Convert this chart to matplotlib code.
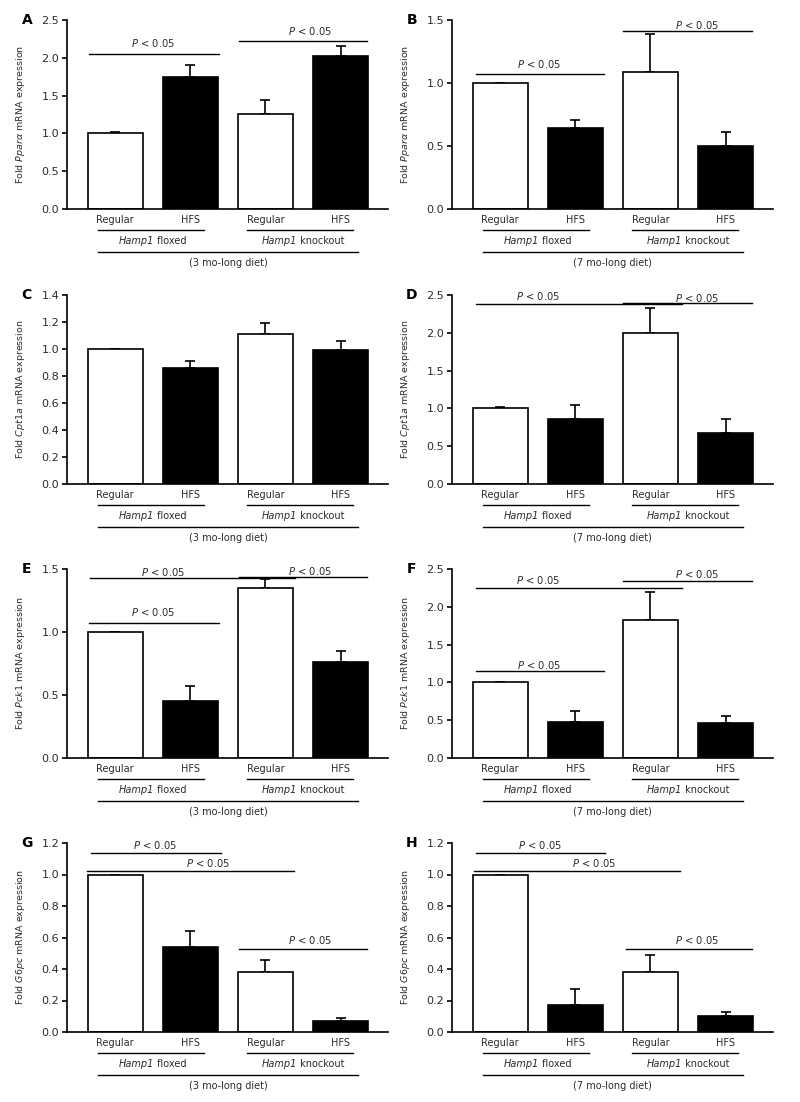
import numpy as np
import matplotlib.pyplot as plt
from matplotlib import transforms
from matplotlib.offsetbox import TextArea, HPacker, AnnotationBbox

plt.rcParams["mathtext.fontset"] = "custom"
plt.rcParams["mathtext.it"] = "DejaVu Sans:italic"
plt.rcParams["mathtext.rm"] = "DejaVu Sans"

# grupos en el eje x
grupos = ["Regular", "HFS", "Regular", "HFS"]
relleno = ["white", "black", "white", "black"]

# medias y errores (solo hacia arriba)
a_media = [1.01, 1.75, 1.25, 2.03]
a_error = [0.01, 0.16, 0.19, 0.12]
b_media = [1.00, 0.64, 1.09, 0.50]
b_error = [0.00, 0.07, 0.30, 0.11]
c_media = [1.00, 0.86, 1.11, 0.99]
c_error = [0.00, 0.05, 0.08, 0.07]
d_media = [1.01, 0.86, 2.00, 0.67]
d_error = [0.01, 0.19, 0.33, 0.19]
e_media = [1.00, 0.45, 1.35, 0.76]
e_error = [0.00, 0.12, 0.07, 0.09]
f_media = [1.00, 0.48, 1.83, 0.46]
f_error = [0.00, 0.14, 0.36, 0.10]
g_media = [1.00, 0.54, 0.38, 0.07]
g_error = [0.00, 0.10, 0.08, 0.02]
h_media = [1.00, 0.17, 0.38, 0.10]
h_error = [0.00, 0.10, 0.11, 0.03]

# lineas de significancia: (x0, x1, y_linea, x_texto, y_texto)
a_sig = [(-0.35, 1.38, 2.05, 0.5, 2.19), (1.65, 3.35, 2.22, 2.6, 2.35)]
b_sig = [(-0.32, 1.38, 1.07, 0.52, 1.15), (1.63, 3.35, 1.41, 2.62, 1.46)]
c_sig = []
d_sig = [(-0.32, 2.42, 2.38, 0.5, 2.49), (1.63, 3.35, 2.40, 2.62, 2.46)]
e_sig = [(-0.33, 2.39, 1.425, 0.64, 1.475), (1.65, 3.35, 1.438, 2.6, 1.488),
         (-0.35, 1.38, 1.075, 0.5, 1.16)]
f_sig = [(-0.32, 2.42, 2.25, 0.5, 2.35), (1.63, 3.35, 2.34, 2.62, 2.43),
         (-0.32, 1.38, 1.15, 0.52, 1.23)]
g_sig = [(-0.32, 1.41, 1.138, 0.53, 1.185), (-0.37, 2.38, 1.021, 1.24, 1.074),
         (1.65, 3.35, 0.53, 2.6, 0.585)]
h_sig = [(-0.32, 1.39, 1.138, 0.53, 1.185), (-0.35, 2.39, 1.023, 1.25, 1.074),
         (1.67, 3.35, 0.53, 2.62, 0.585)]

genes = [r"\mathit{Ppar}\alpha", r"\mathit{Ppar}\alpha", r"\mathit{Cpt1a}", r"\mathit{Cpt1a}",
         r"\mathit{Pck1}", r"\mathit{Pck1}", r"\mathit{G6pc}", r"\mathit{G6pc}"]
dietas = ["(3 mo-long diet)", "(7 mo-long diet)"] * 4
letras = ["A", "B", "C", "D", "E", "F", "G", "H"]
ylims = [2.5, 1.5, 1.4, 2.5, 1.5, 2.5, 1.2, 1.2]
ypasos = [0.5, 0.5, 0.2, 0.5, 0.5, 0.5, 0.2, 0.2]

medias = [a_media, b_media, c_media, d_media, e_media, f_media, g_media, h_media]
errores = [a_error, b_error, c_error, d_error, e_error, f_error, g_error, h_error]
sigs = [a_sig, b_sig, c_sig, d_sig, e_sig, f_sig, g_sig, h_sig]

gris = "#2b2b2b"
fig = plt.figure(figsize=(8, 11.02), dpi=100)

izq = [67 / 800, 452 / 800]
ancho = 321 / 800
abajo = [209, 484, 758, 1032]
alto = 189 / 1102


def etiqueta_grupo(ax, trans, xc, resto):
    # "Hamp1" en cursiva + resto en normal, centrado
    partes = [TextArea("Hamp1", textprops=dict(fontsize=7, color=gris, style="italic")),
              TextArea(" " + resto, textprops=dict(fontsize=7, color=gris))]
    caja = HPacker(children=partes, align="baseline", pad=0, sep=0)
    ab = AnnotationBbox(caja, (xc, -0.169), xycoords=trans, frameon=False,
                        box_alignment=(0.5, 0.5), pad=0, annotation_clip=False)
    ax.add_artist(ab)


for i in range(8):
    fila, col = i // 2, i % 2
    ax = fig.add_axes([izq[col], 1 - abajo[fila] / 1102, ancho, alto])
    x = np.arange(4)

    ax.bar(x, medias[i], width=0.73, color=relleno, edgecolor="black",
           linewidth=1.2, zorder=2)
    ax.errorbar(x, medias[i], yerr=[np.zeros(4), errores[i]], fmt="none",
                ecolor="black", elinewidth=1.2, capsize=3.6, capthick=1.2, zorder=1)

    ax.set_xlim(-0.64, 3.63)
    ax.set_ylim(0, ylims[i])
    ax.set_yticks(np.arange(0, ylims[i] + 1e-6, ypasos[i]))
    ax.set_yticklabels([f"{v:.1f}" for v in ax.get_yticks()])
    ax.set_xticks([])
    ax.spines["top"].set_visible(False)
    ax.spines["right"].set_visible(False)
    ax.spines["left"].set_linewidth(1.2)
    ax.spines["bottom"].set_linewidth(1.2)
    ax.tick_params(axis="y", direction="out", length=3.5, width=1.2,
                   labelsize=8, colors="black", labelcolor=gris, pad=2)

    ax.set_ylabel(r"Fold $" + genes[i] + r"$ mRNA expression", fontsize=6.8, color=gris)
    ax.yaxis.set_label_coords(-0.125, 0.5)
    ax.text(-0.125, 1.0, letras[i], transform=ax.transAxes, fontsize=10,
            fontweight="bold", ha="center", va="center")

    # etiquetas bajo el eje
    trans = transforms.blended_transform_factory(ax.transData, ax.transAxes)
    for xi, g in zip(x, grupos):
        ax.text(xi, -0.058, g, transform=trans, ha="center", va="center",
                fontsize=7, color=gris)
    ax.plot([-0.23, 1.18], [-0.111, -0.111], transform=trans, color="black",
            lw=1.0, clip_on=False)
    ax.plot([1.75, 3.17], [-0.111, -0.111], transform=trans, color="black",
            lw=1.0, clip_on=False)
    etiqueta_grupo(ax, trans, 0.5, "floxed")
    etiqueta_grupo(ax, trans, 2.5, "knockout")
    ax.plot([-0.23, 3.23], [-0.228, -0.228], transform=trans, color="black",
            lw=1.0, clip_on=False)
    ax.text(1.5, -0.286, dietas[i], transform=trans, ha="center", va="center",
            fontsize=7, color=gris)

    # significancia
    for x0, x1, yl, xt, yt in sigs[i]:
        ax.plot([x0, x1], [yl, yl], color="black", lw=1.0, clip_on=False, zorder=3)
        ax.text(xt, yt, r"$\mathit{P}$ < 0.05", ha="center", va="center",
                fontsize=7.2, color=gris, zorder=3)

plt.savefig("out.png", dpi=100)
